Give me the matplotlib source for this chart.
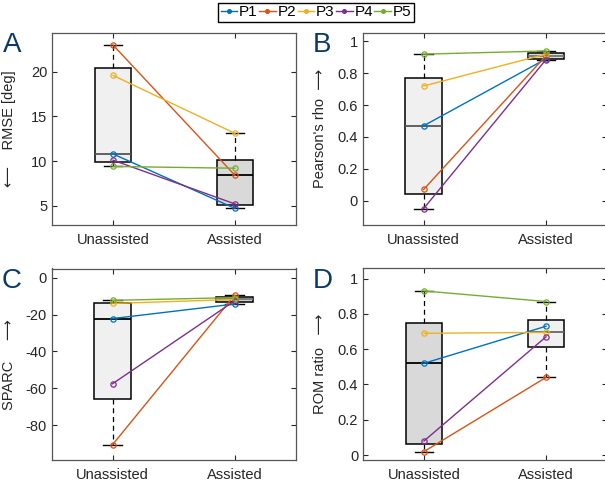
import matplotlib
matplotlib.use('Agg')
import matplotlib.pyplot as plt
import numpy as np

# ---------------------- Data ----------------------
participants = ['P1', 'P2', 'P3', 'P4', 'P5']
conditions = ['Unassisted', 'Assisted']

rmse_unassisted = [10.8, 23.0, 19.6, 10.1, 9.4]
rmse_assisted = [4.7, 8.4, 13.1, 5.2, 9.2]

rho_unassisted = [0.47, 0.07, 0.72, -0.05, 0.92]
rho_assisted = [0.89, 0.91, 0.92, 0.885, 0.94]

sparc_unassisted = [-22.2, -90.7, -14.0, -57.6, -12.3]
sparc_assisted = [-14.3, -9.6, -11.8, -12.6, -10.8]

rom_unassisted = [0.52, 0.02, 0.69, 0.08, 0.93]
rom_assisted = [0.73, 0.44, 0.695, 0.67, 0.87]

# MATLAB default line colours
p_colors = ['#0072BD', '#D95319', '#EDB120', '#7E2F8E', '#77AC30']
LIGHT = '#f0f0f0'
DARK = '#d9d9d9'

plt.rcParams.update({
    'font.family': ['Liberation Sans', 'DejaVu Sans'],
    'font.size': 10.5,
    'axes.edgecolor': '#555555',
    'axes.linewidth': 0.9,
    'xtick.color': '#262626',
    'ytick.color': '#262626',
    'xtick.direction': 'in',
    'ytick.direction': 'in',
})


# ---------------------- Box stats (MATLAB style quartiles) ----------------------
def box_stats(values):
    v = np.sort(np.asarray(values, dtype=float))
    q1, med, q3 = np.percentile(v, [25, 50, 75], method='hazen')
    iqr = q3 - q1
    lo = v[v >= q1 - 1.5 * iqr].min()
    hi = v[v <= q3 + 1.5 * iqr].max()
    return dict(med=med, q1=q1, q3=q3, whislo=lo, whishi=hi, fliers=[])


def draw_panel(ax, un, asst, ylim, yticks, ylabel, letter, faces, med_colors):
    stats = [box_stats(un), box_stats(asst)]
    for i, st in enumerate(stats):
        ax.bxp([st], positions=[i + 1], widths=0.3, patch_artist=True,
               showfliers=False,
               boxprops=dict(facecolor=faces[i], edgecolor='black', linewidth=1.1),
               medianprops=dict(color=med_colors[i], linewidth=1.3),
               whiskerprops=dict(color='black', linestyle=(0, (4, 3)), linewidth=0.9),
               capprops=dict(color='black', linewidth=1.0),
               capwidths=0.15, zorder=2)
    for j in range(len(participants)):
        ax.plot([1, 2], [un[j], asst[j]], color=p_colors[j], lw=1.0,
                marker='o', ms=3.8, mfc='none', mew=0.9, zorder=3)
    ax.set_xlim(0.5, 2.5)
    ax.set_ylim(*ylim)
    ax.set_xticks([1, 2])
    ax.set_xticklabels(conditions, fontsize=11)
    ax.set_yticks(yticks)
    ax.set_yticklabels(['%g' % t for t in yticks])
    ax.tick_params(top=True, right=True, length=3.5, width=0.8, labelsize=10.5)
    ax.tick_params(axis='x', pad=6)
    ax.set_ylabel(ylabel, fontsize=10.5, color='#262626')
    ax.yaxis.set_label_coords(-0.147, 0.5)
    ax.text(-0.165, 1.0, letter, transform=ax.transAxes, fontsize=20,
            color='#0b3a66', ha='center', va='top')


fig = plt.figure(figsize=(6.05, 4.83), dpi=100)
W, H = 605.0, 483.0


def add_ax(left, top, right, bottom):
    return fig.add_axes([left / W, 1 - bottom / H, (right - left) / W, (bottom - top) / H])


axA = add_ax(52, 32.5, 296, 224.5)
axB = add_ax(362.5, 32.5, 607, 224.5)
axC = add_ax(51.5, 268.5, 295.5, 460)
axD = add_ax(363, 268, 607, 460)

draw_panel(axA, rmse_unassisted, rmse_assisted, (2.9, 24.4), [5, 10, 15, 20],
           '\u27f5    RMSE [deg]', 'A', [LIGHT, DARK], ['#555555', 'black'])
draw_panel(axB, rho_unassisted, rho_assisted, (-0.15, 1.056), [0, 0.2, 0.4, 0.6, 0.8, 1],
           "Pearson's rho  \u27f6", 'B', [LIGHT, DARK], ['#555555', '#777777'])
draw_panel(axC, sparc_unassisted, sparc_assisted, (-99, 5), [-80, -60, -40, -20, 0],
           'SPARC     \u27f6', 'C', [LIGHT, '#cfcfcf'], ['black', '#777777'])
draw_panel(axD, rom_unassisted, rom_assisted, (-0.028, 1.06), [0, 0.2, 0.4, 0.6, 0.8, 1],
           'ROM ratio   \u27f6', 'D', [DARK, LIGHT], ['black', '#666666'])

# ---------------------- Legend ----------------------
handles = [plt.Line2D([], [], color=c, lw=1.0, marker='o', ms=2.8, mfc=c, mew=0.8)
           for c in p_colors]
fig.legend(handles, participants, loc='center', ncol=5,
           bbox_to_anchor=(316 / W, 1 - 12.5 / H), frameon=True, fancybox=False,
           edgecolor='black', framealpha=1, handlelength=1.1, handletextpad=0.1,
           columnspacing=0.1, borderpad=0.15, borderaxespad=0, fontsize=11)

fig.savefig('out.png', dpi=100)
